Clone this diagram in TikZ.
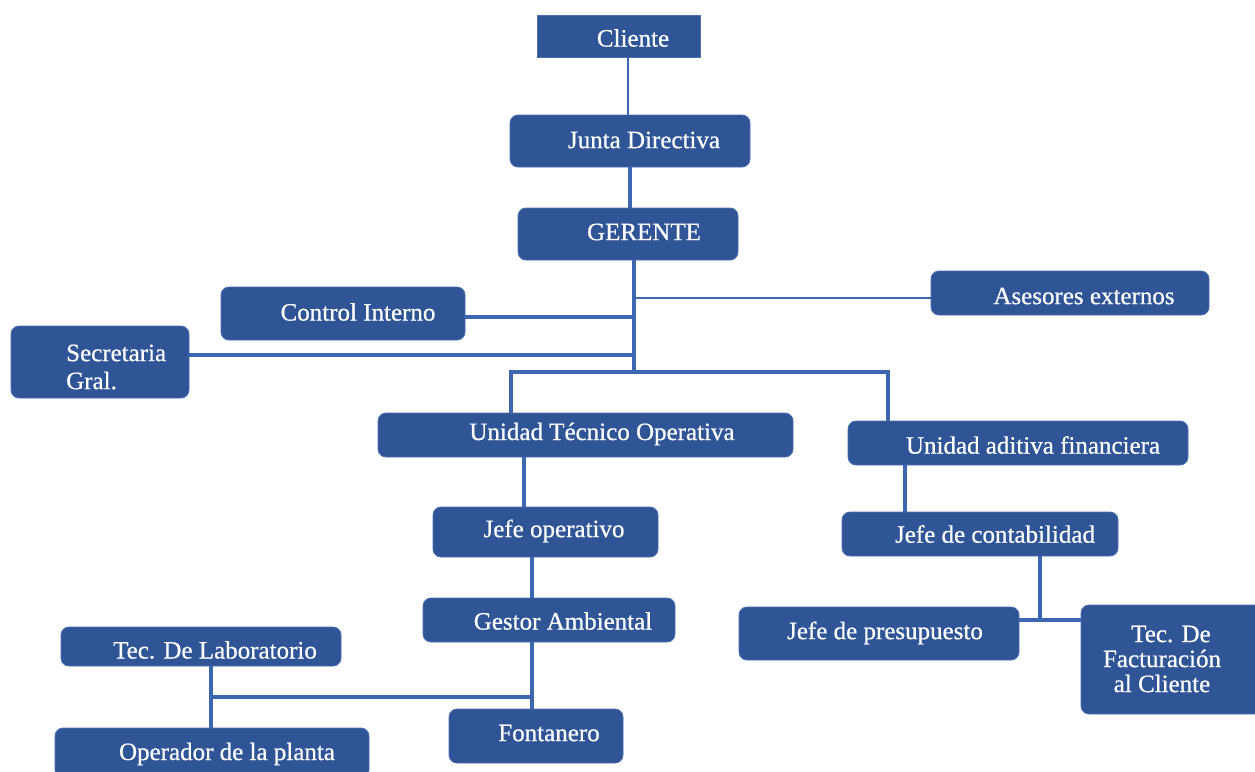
\documentclass[tikz,border=0pt]{standalone}
\usepackage{fontspec}
\setmainfont{Liberation Serif}[FakeBold=0.6]
\definecolor{boxblue}{HTML}{2F5597}
\definecolor{boxedge}{HTML}{4A6FB5}
\definecolor{lineblue}{HTML}{3D66B0}
\begin{document}
\begin{tikzpicture}[x=1pt,y=-1pt,
  box/.style={rectangle, rounded corners=8pt, fill=boxblue, draw=boxedge, line width=0.8pt, inner sep=0pt},
  sqbox/.style={box, rounded corners=0pt},
  txt/.style={text=white, font=\fontsize{25}{28}\selectfont, inner sep=0pt},
  conn/.style={draw=lineblue, line width=4pt},
  thinconn/.style={draw=lineblue, line width=2pt}]
\clip (0,0) rectangle (1255,771);
\fill[white] (0,0) rectangle (1255,771);

% boxes
\node[sqbox, minimum width=163pt, minimum height=42pt] (cli) at (618.5,36) {};
\node[box, minimum width=240pt, minimum height=52pt] (jd) at (630,141) {};
\node[box, minimum width=220pt, minimum height=52pt] (ger) at (628,234) {};
\node[box, minimum width=244pt, minimum height=53pt] (ci) at (343,313.5) {};
\node[box, minimum width=278pt, minimum height=44pt] (ase) at (1070,293) {};
\node[box, minimum width=178pt, minimum height=72pt] (sec) at (100,362) {};
\node[box, minimum width=415pt, minimum height=44pt] (uto) at (585.5,435) {};
\node[box, minimum width=340pt, minimum height=44pt] (uaf) at (1018,443) {};
\node[box, minimum width=225pt, minimum height=50pt] (jo) at (545.5,532) {};
\node[box, minimum width=276pt, minimum height=44pt] (jc) at (980,534) {};
\node[box, minimum width=252pt, minimum height=44pt] (ga) at (549,620) {};
\node[box, minimum width=280pt, minimum height=39pt] (tl) at (201,646.5) {};
\node[box, minimum width=174pt, minimum height=54pt] (fon) at (536,736) {};
\node[box, minimum width=314pt, minimum height=50pt] (op) at (212,753) {};
\node[box, minimum width=280pt, minimum height=53pt] (jp) at (879,633.5) {};
\node[box, minimum width=181pt, minimum height=109pt] (tf) at (1171.5,659.5) {};

% texts
\node[txt] (tcli) at (633,38) {Cliente};
\node[txt] (tjd) at (644,140) {Junta Directiva};
\node[txt] (tger) at (644,232) {GERENTE};
\node[txt] (tci) at (358,312) {Control Interno};
\node[txt] (tase) at (1084,296) {Asesores externos};
\node[txt, anchor=west, align=left] (tsec) at (66,367) {Secretaria\\Gral.};
\node[txt] (tuto) at (602,434) {Unidad Técnico Operativa};
\node[txt] (tuaf) at (1033,445) {Unidad aditiva financiera};
\node[txt] (tjo) at (554,531) {Jefe operativo};
\node[txt] (tjc) at (995,534) {Jefe de contabilidad};
\node[txt] (tga) at (563,621) {Gestor Ambiental};
\node[txt] (ttl) at (215,650) {Tec. De Laboratorio};
\node[txt] (tfon) at (549,733) {Fontanero};
\node[txt] (top) at (227,754) {Operador de la planta};
\node[txt] (tjp) at (885,633) {Jefe de presupuesto};
\node[txt, align=center, font=\fontsize{25}{25}\selectfont] (ttf) at (1162,659) {\hspace*{18pt}Tec. De\\Facturación\\al Cliente};

% helper coordinates
\coordinate (x628) at (628,0);
\coordinate (x630) at (630,0);
\coordinate (g1) at (634,298);
\coordinate (g2) at (634,317);
\coordinate (g3) at (634,355);
\coordinate (g4) at (634,372);
\coordinate (hL) at (511,372);
\coordinate (hR) at (888,372);
\coordinate (x524) at (524,0);
\coordinate (x532) at (532,0);
\coordinate (j1) at (532,697);
\coordinate (j2) at (211,697);
\coordinate (x905) at (905,0);
\coordinate (j3) at (1040,620);

% connectors
\draw[thinconn] (cli.south -| x628) -- (jd.north -| x628);
\draw[conn] (jd.south -| x630) -- (ger.north -| x630);
\draw[conn] (ger.south -| g4) -- (g4);
\draw[thinconn] (g1) -- (ase.west |- g1);
\draw[conn] (ci.east |- g2) -- (g2);
\draw[conn] (sec.east |- g3) -- (g3);
\draw[conn, line join=miter] (uto.north -| hL) -- (hL) -- (hR) -- (uaf.north -| hR);
\draw[conn] (uto.south -| x524) -- (jo.north -| x524);
\draw[conn] (jo.south -| x532) -- (ga.north -| x532);
\draw[conn] (ga.south -| x532) -- (fon.north -| x532);
\draw[conn] (j1) -- (j2);
\draw[conn] (tl.south -| j2) -- (op.north -| j2);
\draw[conn] (uaf.south -| x905) -- (jc.north -| x905);
\draw[conn] (jc.south -| j3) -- (j3);
\draw[conn] (jp.east |- j3) -- (tf.west |- j3);
\end{tikzpicture}
\end{document}
